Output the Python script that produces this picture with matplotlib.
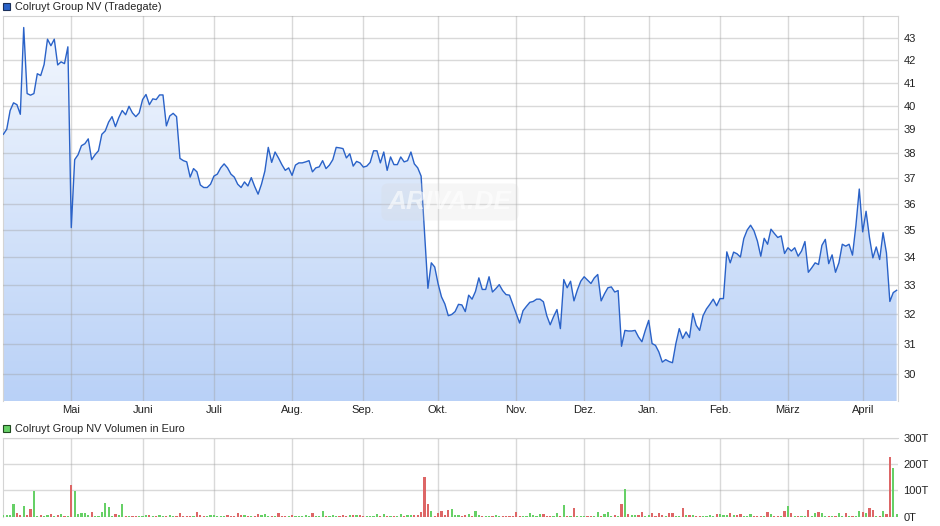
import numpy as np
import matplotlib
matplotlib.use('Agg')
import matplotlib.pyplot as plt
from matplotlib.colors import LinearSegmentedColormap
from matplotlib.patches import Polygon, Rectangle
from matplotlib.ticker import NullLocator

plt.rcParams['font.family'] = ['Liberation Sans', 'DejaVu Sans']

# daily closes (EUR), one per trading day
price = [
    38.79, 39.00, 39.79, 40.12, 40.04, 39.63, 43.49, 40.52, 40.45, 40.52,
    41.39, 41.31, 41.80, 42.95, 42.65, 42.95, 41.78, 41.92, 41.84, 42.60,
    35.10, 37.75, 37.95, 38.32, 38.40, 38.60, 37.75, 37.95, 38.11, 38.79,
    38.93, 39.30, 39.53, 39.11, 39.49, 39.79, 39.61, 39.97, 39.69, 39.53,
    39.69, 40.26, 40.48, 40.04,
    40.29, 40.26, 40.46, 40.46, 39.14, 39.56, 39.67, 39.53, 37.80, 37.71,
    37.66, 37.05, 37.39, 37.26, 36.74, 36.64, 36.64, 36.77, 37.09, 37.17,
    37.42, 37.58, 37.42, 37.17, 37.05, 36.77, 36.64, 36.86, 36.70, 37.03,
    36.68, 36.38, 36.77, 37.29, 38.25, 37.64, 38.06, 37.82, 37.55, 37.32,
    37.42, 37.12, 37.53,
    37.62, 37.62, 37.66, 37.71, 37.26, 37.42, 37.46, 37.71, 37.39, 37.53,
    37.75, 38.25, 38.23, 38.20, 37.82, 37.99, 37.49, 37.68, 37.62, 37.45,
    37.49, 37.64, 38.11, 38.11, 37.62, 38.06, 37.32, 37.86, 37.55, 37.55,
    37.86, 37.66, 37.71, 38.06, 37.58, 37.42, 37.09, 34.91, 32.89, 33.80,
    33.65, 33.05, 32.59, 32.34,
    31.94, 31.98, 32.08, 32.33, 32.31, 32.08, 32.65, 32.51, 32.78, 33.26,
    32.85, 32.85, 33.30, 32.76, 32.88, 33.02, 32.81, 32.67, 32.65, 32.33,
    32.02, 31.69, 32.11, 32.26, 32.40, 32.43, 32.51, 32.51, 32.42, 31.94,
    31.63, 31.91, 32.15, 31.50, 33.20, 32.91, 33.14, 32.45, 32.83, 33.14,
    33.30, 33.18, 33.06,
    33.26, 33.38, 32.45, 32.70, 32.91, 32.94, 32.76, 32.81, 30.91, 31.44,
    31.42, 31.42, 31.44, 31.22, 31.06, 31.44, 31.78, 31.00, 30.94, 30.72,
    30.39, 30.47, 30.41, 30.37, 31.00, 31.50, 31.17, 31.39, 31.20, 32.02,
    31.61, 31.44, 31.94, 32.17, 32.33, 32.51, 32.28, 32.53, 32.53, 34.20,
    33.80, 34.19, 34.13, 34.01,
    34.69, 35.01, 35.19, 34.98, 34.60, 34.04, 34.70, 34.48, 35.04, 34.88,
    34.73, 34.79, 34.14, 34.35, 34.23, 34.35, 34.04, 34.23, 34.58, 33.46,
    33.62, 33.80, 33.74, 34.44, 34.66, 33.77, 34.09, 33.46, 33.80, 34.48,
    34.41, 34.48, 34.08, 35.17, 36.58, 34.94, 35.72, 34.73, 33.98, 34.38,
    33.92, 34.91, 34.16, 32.43, 32.74, 32.82,
]

# daily turnover in thousand EUR
volume = [
    6, 6, 6, 47, 15, 6, 40, 6, 29, 96, 2, 6, 3, 6, 10, 1, 6, 10, 3, 3,
    119, 96, 10, 15, 15, 6, 17, 3, 3, 17, 51, 36, 3, 10, 6, 47, 3, 3, 1, 3,
    2, 2, 6, 6, 3, 3, 6, 3, 3, 6, 3, 4, 15, 3, 3, 3, 3, 17, 6, 3,
    3, 6, 6, 3, 3, 3, 6, 3, 3, 15, 6, 6, 3, 3, 3, 10, 6, 10, 3, 3,
    3, 15, 3, 3, 3, 6, 3, 3, 3, 6, 3, 15, 3, 3, 21, 3, 3, 6, 3, 3,
    6, 3, 6, 6, 6, 6, 3, 3, 3, 3, 12, 3, 10, 3, 3, 3, 3, 10, 3, 6,
    6, 6, 6, 17, 150, 47, 21, 3, 15, 21, 6, 25, 29, 6, 6, 3, 6, 10, 3, 21,
    6, 3, 3, 3, 4, 6, 3, 3, 3, 3, 3, 17, 3, 3, 3, 15, 6, 3, 10, 10,
    3, 3, 3, 15, 3, 44, 3, 3, 33, 3, 3, 3, 3, 3, 3, 17, 3, 10, 17, 3,
    6, 3, 47, 104, 10, 6, 6, 6, 17, 3, 6, 15, 3, 15, 6, 3, 15, 15, 3, 3,
    33, 6, 6, 6, 3, 3, 3, 3, 6, 3, 10, 10, 6, 6, 15, 6, 6, 10, 3, 3,
    10, 3, 3, 3, 3, 17, 10, 3, 3, 3, 21, 40, 15, 3, 3, 3, 3, 25, 3, 15,
    17, 15, 3, 3, 3, 3, 15, 3, 15, 3, 3, 3, 21, 17, 15, 33, 25, 3, 3, 21,
    10, 225, 184, 10,
]

months = ['Mai', 'Juni', 'Juli', 'Aug.', 'Sep.', 'Okt.', 'Nov.', 'Dez.',
          'Jan.', 'Feb.', 'März', 'April']
month_idx = [20, 41, 62, 85, 106, 128, 151, 171, 190, 211, 231, 253]
price_ticks = list(range(30, 44))
vol_ticks = [0, 100, 200, 300]

W, H = 940, 526
x = np.arange(len(price))
grid_kw = dict(color='#a0a0a0', alpha=0.4, lw=1)


def px_box(l, t, r, b):
    return [l / W, 1 - b / H, (r - l) / W, (b - t) / H]


fig = plt.figure(figsize=(W / 100, H / 100), dpi=100)

# price chart
ax = fig.add_axes(px_box(3, 16, 898, 401))
ax.set_yscale('log')
cmap = LinearSegmentedColormap.from_list('fill', ['#f4f8fe', '#b9d1f7'])
grad = np.linspace(0, 1, 256).reshape(-1, 1)
img = ax.imshow(grad, cmap=cmap, aspect='auto', extent=[0, 1, 0, 1],
                transform=ax.transAxes, zorder=1)
verts = [(x[0], 20)] + list(zip(x, price)) + [(x[-1], 20)]
area = Polygon(verts, closed=True, facecolor='none', edgecolor='none')
ax.add_patch(area)
img.set_clip_path(area)
ax.plot(x, price, color='#2a62c8', lw=1.0, zorder=3)

ax.set_xlim(-0.1, 263.4)
ax.set_ylim(29.15, 44.03)
ax.set_yticks(price_ticks, [str(t) for t in price_ticks])
ax.yaxis.set_minor_locator(NullLocator())
ax.set_xticks(month_idx, months)
ax.yaxis.tick_right()
ax.tick_params(axis='both', length=0, labelsize=8, colors='#222222')
ax.tick_params(axis='y', pad=4)
ax.tick_params(axis='x', pad=3)
ax.grid(True, **grid_kw)
ax.set_axisbelow(False)
for s in ['top', 'left', 'right']:
    ax.spines[s].set_color('#d4d4d4')
ax.spines['bottom'].set_visible(False)

# volume chart
ax2 = fig.add_axes(px_box(3, 437.7, 898, 516.7))
diff = np.diff(price, prepend=price[0])
bar_colors = ['#66d066' if d >= 0 else '#dd6666' for d in diff]
ax2.bar(x, volume, width=0.65, color=bar_colors, zorder=3)
ax2.set_xlim(-0.1, 263.4)
ax2.set_ylim(0, 300)
ax2.set_yticks(vol_ticks, [f'{v}T' for v in vol_ticks])
ax2.set_xticks(month_idx, [''] * len(month_idx))
ax2.yaxis.tick_right()
ax2.tick_params(axis='both', length=0, labelsize=8, colors='#222222')
ax2.tick_params(axis='y', pad=4)
ax2.grid(True, **grid_kw)
ax2.set_axisbelow(True)
for s in ['top', 'left']:
    ax2.spines[s].set_color('#d4d4d4')
ax2.spines['right'].set_visible(False)
ax2.spines['bottom'].set_visible(False)

# legends
fig.add_artist(Rectangle((3 / W, 1 - 10 / H), 7 / W, 7 / H, transform=fig.transFigure,
                         facecolor='#2a62c8', edgecolor='#1a2f5a', lw=0.8))
fig.text(15 / W, 1 - 6.5 / H, 'Colruyt Group NV (Tradegate)', fontsize=7.8,
         va='center', color='#222222')
fig.add_artist(Rectangle((3 / W, 1 - 432 / H), 7 / W, 7 / H, transform=fig.transFigure,
                         facecolor='#66d066', edgecolor='#1f4a1f', lw=0.8))
fig.text(15 / W, 1 - 428.5 / H, 'Colruyt Group NV Volumen in Euro', fontsize=7.8,
         va='center', color='#222222')

# watermark
fig.text(450 / W, 1 - 202 / H, 'ARIVA.DE', fontsize=19, fontweight='bold',
         fontstyle='italic', color='white', alpha=0.6, ha='center', va='center',
         bbox=dict(boxstyle='round,pad=0.25', facecolor='#d6d6d6', edgecolor='none',
                   alpha=0.2))

fig.savefig('out.png', dpi=100)
